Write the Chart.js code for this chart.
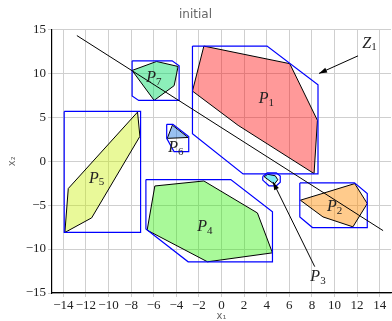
<!DOCTYPE html>
<html>
<head>
<meta charset="utf-8">
<script src="https://cdn.jsdelivr.net/npm/chart.js@4.4.0/dist/chart.umd.min.js"></script>
<style>
  html, body { margin: 0; padding: 0; background: #fff; }
</style>
</head>
<body>
<canvas id="chart" width="392" height="321"></canvas>
<script>
// polygons P1..P7 (vertices, x1/x2)
const P1 = [[-1.56, 13.1], [6.04, 11.1], [8.49, 4.65], [8.19, -1.41], [1.47, 4.08], [-2.57, 7.98]];
const P2 = [[6.98, -4.44], [11.79, -2.55], [12.9, -4.82], [11.63, -7.47], [8.98, -6.34]];
const P3 = [[3.78, -1.77], [4.09, -1.49], [4.76, -1.66], [4.98, -2.11], [4.67, -2.62]];
const P4 = [[-5.9, -2.82], [-1.56, -2.25], [3.18, -5.89], [4.51, -10.43], [-1.24, -11.45], [-6.58, -7.85]];
const P5 = [[-7.43, 5.59], [-7.22, 2.83], [-11.49, -6.45], [-13.86, -8.11], [-13.56, -3.11]];
const P6 = [[-4.8, 2.6], [-4.35, 4.1], [-2.95, 2.7]];
const P7 = [[-7.91, 10.33], [-5.75, 11.35], [-3.84, 10.78], [-4.19, 8.6], [-5.96, 6.92]];

// outer bounding octagons
const B1 = [[-2.57, 13.1], [4.03, 13.1], [8.54, 8.7], [8.54, -1.45], [1.91, -1.45], [-2.57, 3.13]];
const B2 = [[6.93, -2.47], [11.77, -2.47], [12.9, -3.68], [12.9, -7.55], [8.05, -7.55], [6.93, -6.34]];
const B3 = [[3.65, -1.75], [4.05, -1.32], [4.85, -1.32], [5.2, -1.7], [5.2, -2.4], [4.85, -2.8], [4.2, -2.8], [3.65, -2.15]];
const B4 = [[-6.69, -2.09], [0.82, -2.09], [4.51, -5.77], [4.51, -11.45], [-2.95, -11.45], [-6.69, -7.7]];
const B5 = [[-13.92, 5.67], [-7.16, 5.67], [-7.16, -8.11], [-13.92, -8.11]];
const B6 = [[-4.85, 4.2], [-4.3, 4.2], [-2.9, 2.8], [-2.9, 1.1], [-4.2, 1.1], [-4.85, 2.6]];
const B7 = [[-7.91, 11.42], [-4.37, 11.42], [-3.75, 10.86], [-3.75, 6.92], [-7.33, 6.92], [-7.91, 7.42]];

// separating line and the two pointer arrows
const hyperLine = [[-12.8, 14.3], [14.3, -7.9]];
const arrowZ1 = [[12.08, 11.99], [8.63, 9.99]];
const arrowP3 = [[8.25, -12.0], [4.56, -2.36]];

// annotation text: base letter, subscript, centre position
const labelBase = ['P', 'P', 'P', 'P', 'P', 'P', 'P', 'Z'];
const labelSub = ['1', '2', '3', '4', '5', '6', '7', '1'];
const labelPos = [[3.98, 7.1], [10.02, -5.2], [8.54, -13.16], [-1.48, -7.48], [-11.05, -1.98], [-4.04, 1.5], [-5.99, 9.45], [13.1, 13.4]];

const xTicks = [-14, -12, -10, -8, -6, -4, -2, 0, 2, 4, 6, 8, 10, 12, 14];
const yTicks = [-15, -10, -5, 0, 5, 10, 15];

const polys = [P1, P2, P3, P4, P5, P6, P7];
const boxes = [B1, B2, B3, B4, B5, B6, B7];
const fills = [
  'rgba(255,0,0,0.4)',
  'rgba(255,140,0,0.45)',
  'rgba(0,220,240,0.5)',
  'rgba(40,240,0,0.4)',
  'rgba(200,240,0,0.4)',
  'rgba(0,100,220,0.4)',
  'rgba(0,220,100,0.45)'
];

const pts = arr => arr.map(([x, y]) => ({ x, y }));
const closed = arr => pts(arr.concat([arr[0]]));
const fmt = v => (v < 0 ? '\u2212' + Math.abs(v) : String(v));

const datasets = [];
polys.forEach((p, i) => datasets.push({
  data: closed(p), borderColor: '#000', borderWidth: 1, backgroundColor: fills[i],
  fill: 'shape', pointRadius: 0, tension: 0, order: 3
}));
boxes.forEach(b => datasets.push({
  data: closed(b), borderColor: '#0000ff', borderWidth: 1.2, fill: false,
  pointRadius: 0, tension: 0, order: 2
}));
[hyperLine, arrowZ1, arrowP3].forEach(l => datasets.push({
  data: pts(l), borderColor: '#000', borderWidth: 1, fill: false,
  pointRadius: 0, tension: 0, order: 1
}));

// arrow heads and P/Z labels
const annotations = {
  id: 'annotations',
  afterDatasetsDraw(chart) {
    const { ctx, scales: { x, y } } = chart;
    ctx.save();
    ctx.fillStyle = '#000';
    [arrowZ1, arrowP3].forEach(a => {
      const x0 = x.getPixelForValue(a[0][0]), y0 = y.getPixelForValue(a[0][1]);
      const x1 = x.getPixelForValue(a[1][0]), y1 = y.getPixelForValue(a[1][1]);
      const ang = Math.atan2(y1 - y0, x1 - x0);
      ctx.beginPath();
      ctx.moveTo(x1, y1);
      ctx.lineTo(x1 - 8 * Math.cos(ang) + 2.6 * Math.sin(ang), y1 - 8 * Math.sin(ang) - 2.6 * Math.cos(ang));
      ctx.lineTo(x1 - 8 * Math.cos(ang) - 2.6 * Math.sin(ang), y1 - 8 * Math.sin(ang) + 2.6 * Math.cos(ang));
      ctx.closePath();
      ctx.fill();
    });

    ctx.fillStyle = '#222';
    ctx.textBaseline = 'middle';
    ctx.textAlign = 'left';
    labelPos.forEach(([lx, ly], i) => {
      const px = x.getPixelForValue(lx), py = y.getPixelForValue(ly);
      ctx.font = 'italic 16px "Liberation Serif"';
      const w1 = ctx.measureText(labelBase[i]).width;
      ctx.font = '11px "Liberation Serif"';
      const w2 = ctx.measureText(labelSub[i]).width;
      const left = px - (w1 + w2) / 2;
      ctx.font = 'italic 16px "Liberation Serif"';
      ctx.fillText(labelBase[i], left, py);
      ctx.font = '11px "Liberation Serif"';
      ctx.fillText(labelSub[i], left + w1, py + 4);
    });
    ctx.restore();
  }
};

const tickFont = { family: '"Liberation Serif"', size: 13 };

new Chart(document.getElementById('chart'), {
  type: 'line',
  data: { datasets },
  options: {
    responsive: false,
    animation: false,
    layout: { padding: { left: 0, right: 1, top: 0, bottom: 0 } },
    plugins: {
      legend: { display: false },
      tooltip: { enabled: false },
      title: {
        display: true,
        text: 'initial',
        color: '#666',
        font: { family: '"DejaVu Sans"', size: 12, weight: 'normal', lineHeight: 1.2 },
        padding: { top: 8, bottom: 7 }
      }
    },
    scales: {
      x: {
        type: 'linear',
        min: -15,
        max: 15,
        afterBuildTicks: s => { s.ticks = xTicks.map(v => ({ value: v })); },
        afterFit: s => { s.height = 28; },
        ticks: { font: tickFont, color: '#222', padding: 1, maxRotation: 0, autoSkip: false, callback: fmt },
        grid: { color: '#cfcfcf', tickLength: 4 },
        border: { color: '#000', width: 1.2 },
        title: { display: true, text: 'x\u2081', color: '#666', font: { family: '"DejaVu Sans"', size: 10, lineHeight: 1 }, padding: 0 }
      },
      y: {
        type: 'linear',
        min: -15,
        max: 15,
        afterBuildTicks: s => { s.ticks = yTicks.map(v => ({ value: v })); },
        afterFit: s => { s.width = 52; },
        ticks: { font: tickFont, color: '#222', padding: 2, autoSkip: false, callback: fmt },
        grid: { color: '#cfcfcf', tickLength: 4 },
        border: { color: '#000', width: 1.2 },
        title: { display: true, text: 'x\u2082', color: '#666', font: { family: '"DejaVu Sans"', size: 10, lineHeight: 1.2 }, padding: { top: 6, bottom: 0 } }
      }
    }
  },
  plugins: [annotations]
});
</script>
</body>
</html>
